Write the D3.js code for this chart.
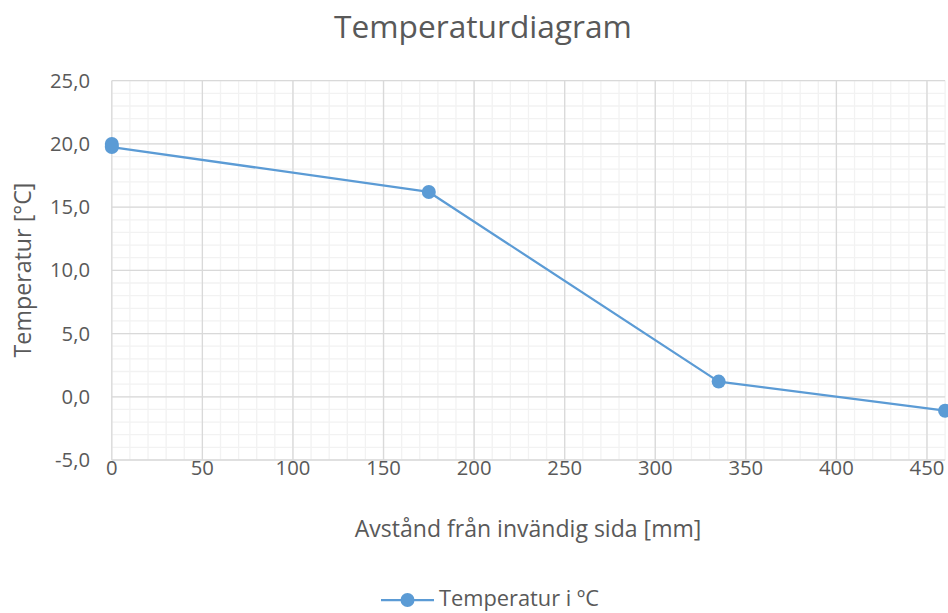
<!DOCTYPE html>
<html><head><meta charset="utf-8">
<script src="https://cdn.jsdelivr.net/npm/d3@7"></script>
<style>body{margin:0;background:#fff}svg{display:block}text{font-family:"Open Sans",sans-serif;fill:#595959}</style>
</head><body>
<script>
const distances = [0, 0, 175, 335, 460];
const temps = [20.0, 19.75, 16.2, 1.2, -1.1];
const xTicks = [0, 50, 100, 150, 200, 250, 300, 350, 400, 450];
const yTicks = [-5, 0, 5, 10, 15, 20, 25];
const title = "Temperaturdiagram";
const xTitle = "Avstånd från invändig sida [mm]";
const yTitle = "Temperatur [°C]";
const seriesName = "Temperatur i ºC";

const W = 948, H = 613;
const svg = d3.select("body").append("svg").attr("width", W).attr("height", H);
const x = d3.scaleLinear().domain([0, 460]).range([111.8, 945.1]);
const y = d3.scaleLinear().domain([-5, 25]).range([460, 80.7]);

function fit(sel, target) {
  const w = sel.node().getComputedTextLength();
  const s = +sel.attr("font-size");
  sel.attr("font-size", s * target / w);
  return s * target / w;
}

const g = svg.append("g");
g.selectAll(".mx").data(d3.range(0, 461, 10)).join("line")
  .attr("x1", d => x(d)).attr("x2", d => x(d)).attr("y1", y(25)).attr("y2", y(-5))
  .attr("stroke", "#F2F2F2").attr("stroke-width", 1.3);
g.selectAll(".my").data(d3.range(-5, 25.01, 1)).join("line")
  .attr("y1", d => y(d)).attr("y2", d => y(d)).attr("x1", x(0)).attr("x2", x(460))
  .attr("stroke", "#F2F2F2").attr("stroke-width", 1.3);
g.selectAll(".Mx").data(xTicks).join("line")
  .attr("x1", d => x(d)).attr("x2", d => x(d)).attr("y1", y(25)).attr("y2", y(-5))
  .attr("stroke", "#D9D9D9").attr("stroke-width", 1.3);
g.selectAll(".My").data(yTicks).join("line")
  .attr("y1", d => y(d)).attr("y2", d => y(d)).attr("x1", x(0)).attr("x2", x(460))
  .attr("stroke", "#D9D9D9").attr("stroke-width", 1.3);

const fmt = d => d3.format(".1f")(d).replace(".", ",").replace("\u2212", "-");
const probe = svg.append("text").attr("font-size", 16).text(fmt(25));
const tickSize = fit(probe, 40);
probe.remove();

svg.selectAll(".yl").data(yTicks).join("text")
  .attr("x", 90).attr("y", d => y(d)).attr("dy", "0.35em").attr("text-anchor", "end")
  .attr("font-size", tickSize).text(fmt);
svg.selectAll(".xl").data(xTicks).join("text")
  .attr("x", d => x(d)).attr("y", 475).attr("text-anchor", "middle")
  .attr("font-size", tickSize).text(d => d);

const data = distances.map((d, i) => ({x: d, y: temps[i]}));
svg.append("path").datum(data)
  .attr("d", d3.line().x(d => x(d.x)).y(d => y(d.y)))
  .attr("fill", "none").attr("stroke", "#5B9BD5").attr("stroke-width", 2.25).attr("stroke-linejoin", "round");
svg.selectAll(".pt").data(data).join("circle")
  .attr("cx", d => x(d.x)).attr("cy", d => y(d.y)).attr("r", 7).attr("fill", "#5B9BD5");

const t = svg.append("text").attr("x", 483).attr("y", 38).attr("text-anchor", "middle").attr("font-size", 24).text(title);
fit(t, 298);
const xt = svg.append("text").attr("x", 528).attr("y", 537).attr("text-anchor", "middle").attr("font-size", 18).text(xTitle);
fit(xt, 347);
const yt = svg.append("text").attr("transform", "translate(31,270) rotate(-90)").attr("text-anchor", "middle").attr("font-size", 18).text(yTitle);
fit(yt, 175);

const lg = svg.append("g").attr("transform", "translate(0,600)");
lg.append("line").attr("x1", 381).attr("x2", 434).attr("y1", 0).attr("y2", 0).attr("stroke", "#5B9BD5").attr("stroke-width", 2.25);
lg.append("circle").attr("cx", 407.5).attr("cy", 0).attr("r", 7).attr("fill", "#5B9BD5");
const lt = lg.append("text").attr("x", 439).attr("y", 6).attr("font-size", 16).text(seriesName);
fit(lt, 160);
</script>
</body></html>
